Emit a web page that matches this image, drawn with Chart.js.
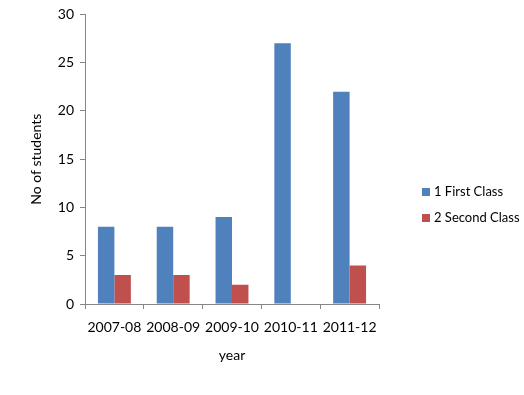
<!DOCTYPE html>
<html>
<head>
<meta charset="utf-8">
<script src="https://cdn.jsdelivr.net/npm/chart.js@4"></script>
<style>
  html, body { margin: 0; padding: 0; background: #fff; }
  #wrap { width: 524px; height: 395px; }
</style>
</head>
<body>
<div id="wrap"><canvas id="myChart" width="524" height="395"></canvas></div>
<script>
const years = ['2007-08', '2008-09', '2009-10', '2010-11', '2011-12'];
const firstClass = [8, 8, 9, 27, 22];
const secondClass = [3, 3, 2, 0, 4];
const seriesNames = ['1 First Class', '2 Second Class'];
const yTicks = [0, 5, 10, 15, 20, 25, 30];

const FONT = 'Lato, "Open Sans", sans-serif';
const AXIS = '#868686';

// legend drawn on the right like the original
const sideLegend = {
    id: 'sideLegend',
    afterDraw(chart) {
        const c = chart.ctx;
        c.save();
        c.font = '13px ' + FONT;
        c.textBaseline = 'middle';
        chart.data.datasets.forEach(function (ds, i) {
            const y = 192 + i * 26;
            c.fillStyle = ds.backgroundColor;
            c.fillRect(422, y - 4, 8, 8);
            c.fillStyle = '#000';
            c.fillText(ds.label, 434, y);
        });
        c.restore();
    }
};

const ctx = document.getElementById('myChart').getContext('2d');
new Chart(ctx, {
    type: 'bar',
    data: {
        labels: years,
        datasets: [{
            label: seriesNames[0],
            data: firstClass,
            backgroundColor: '#4F81BD'
        }, {
            label: seriesNames[1],
            data: secondClass,
            backgroundColor: '#C0504D'
        }]
    },
    options: {
        responsive: false,
        animation: false,
        layout: {
            padding: { left: 28, top: 10, right: 145, bottom: 31 }
        },
        datasets: {
            bar: {
                barPercentage: 1,
                categoryPercentage: 0.56
            }
        },
        plugins: {
            legend: { display: false },
            tooltip: { enabled: false }
        },
        scales: {
            y: {
                min: 0,
                max: 30,
                afterBuildTicks: function (scale) {
                    scale.ticks = yTicks.map(v => ({ value: v }));
                },
                afterFit: function (scale) {
                    scale.width = 57;
                },
                ticks: {
                    color: '#000',
                    padding: 6,
                    font: { family: FONT, size: 14 }
                },
                grid: {
                    drawOnChartArea: false,
                    drawTicks: true,
                    tickLength: 5,
                    color: AXIS
                },
                border: { color: AXIS },
                title: {
                    display: true,
                    text: 'No of students',
                    color: '#000',
                    padding: { top: 0, bottom: 12 },
                    font: { family: FONT, size: 14 }
                }
            },
            x: {
                afterFit: function (scale) {
                    scale.height = 60;
                },
                ticks: {
                    color: '#000',
                    padding: 10,
                    maxRotation: 0,
                    minRotation: 0,
                    autoSkip: false,
                    font: { family: FONT, size: 14 }
                },
                grid: {
                    drawOnChartArea: false,
                    drawTicks: true,
                    tickLength: 5,
                    offset: true,
                    color: AXIS
                },
                border: { color: AXIS },
                title: {
                    display: true,
                    text: 'year',
                    color: '#000',
                    padding: { top: 0, bottom: 0 },
                    font: { family: FONT, size: 14 }
                }
            }
        }
    },
    plugins: [sideLegend]
});
</script>
</body>
</html>
